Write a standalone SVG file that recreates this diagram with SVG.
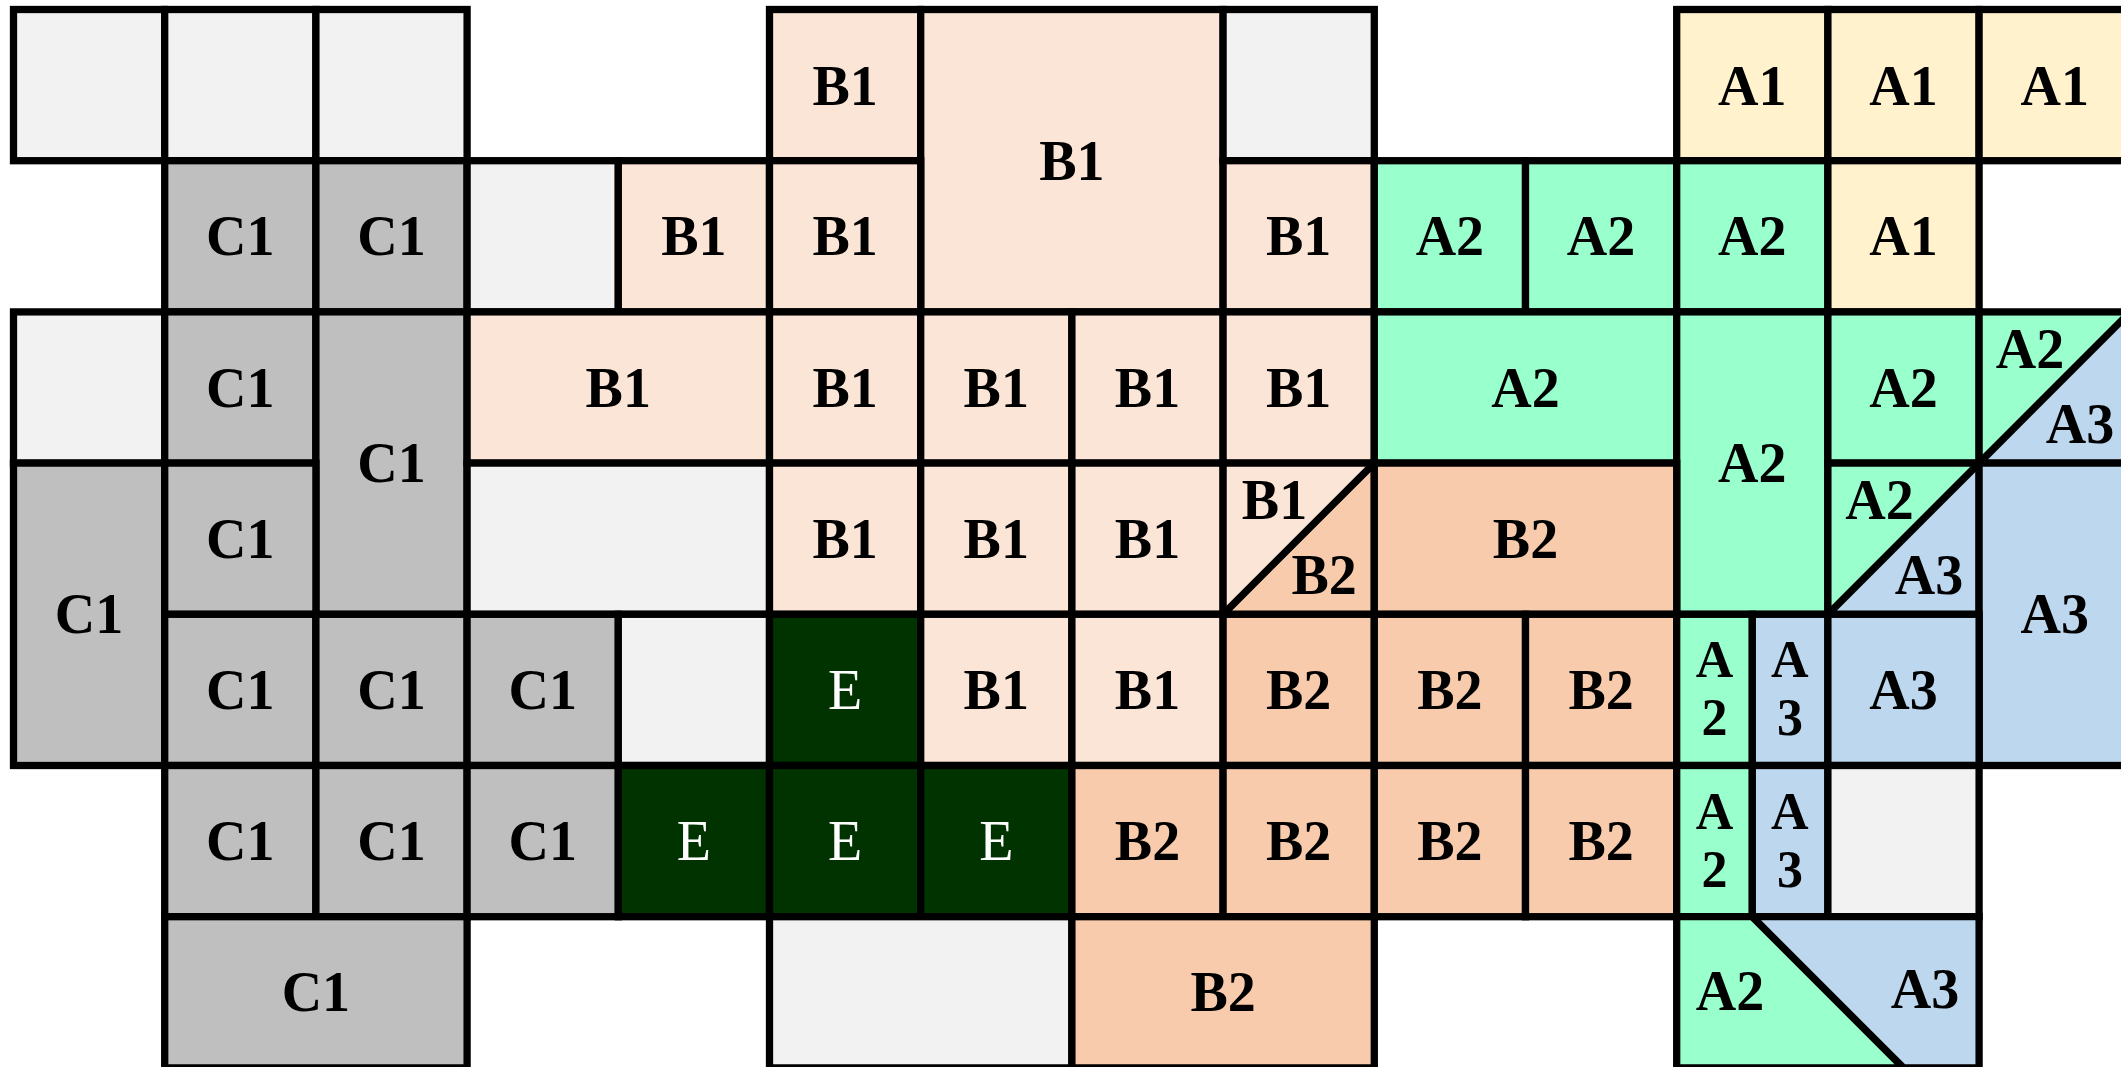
<svg xmlns="http://www.w3.org/2000/svg" width="2121" height="1067" viewBox="0 0 2121 1067">
<style>
rect,polygon{stroke:#000;stroke-width:7.3;stroke-linejoin:miter}
.g{fill:#f2f2f2}.c1{fill:#bfbfbf}.b1{fill:#fbe5d6}.b2{fill:#f8cbad}.a1{fill:#fff2cc}.a2{fill:#99ffcc}.a3{fill:#bdd7ee}.e{fill:#003300}
text{font-family:"Liberation Serif","Times New Roman",serif;font-size:56px;font-weight:bold;text-anchor:middle;fill:#000}
text.w{fill:#fff;font-weight:normal}
text.s{font-size:52px}
</style>
<!-- Row 0 -->
<g id="r0c0"><rect class="g" x="13.5" y="9.5" width="151.2" height="151.2"/></g>
<g id="r0c1"><rect class="g" x="164.7" y="9.5" width="151.2" height="151.2"/></g>
<g id="r0c2"><rect class="g" x="315.9" y="9.5" width="151.2" height="151.2"/></g>
<g id="r0c5"><rect class="b1" x="769.5" y="9.5" width="151.2" height="151.2"/><text x="845.1" y="104.6">B1</text></g>
<g id="r0c6"><rect class="b1" x="920.7" y="9.5" width="302.4" height="302.4"/><text x="1071.9" y="179.7">B1</text></g>
<g id="r0c8"><rect class="g" x="1223.1" y="9.5" width="151.2" height="151.2"/></g>
<g id="r0c11"><rect class="a1" x="1676.7" y="9.5" width="151.2" height="151.2"/><text x="1752.3" y="104.6">A1</text></g>
<g id="r0c12"><rect class="a1" x="1827.9" y="9.5" width="151.2" height="151.2"/><text x="1903.5" y="104.6">A1</text></g>
<g id="r0c13"><rect class="a1" x="1979.1" y="9.5" width="151.2" height="151.2"/><text x="2054.7" y="104.6">A1</text></g>
<!-- Row 1 -->
<g id="r1c1"><rect class="c1" x="164.7" y="160.7" width="151.2" height="151.2"/><text x="240.3" y="255.3">C1</text></g>
<g id="r1c2"><rect class="c1" x="315.9" y="160.7" width="151.2" height="151.2"/><text x="391.5" y="255.3">C1</text></g>
<g id="r1c3"><rect class="g" x="467.1" y="160.7" width="151.2" height="151.2"/></g>
<g id="r1c4"><rect class="b1" x="618.3" y="160.7" width="151.2" height="151.2"/><text x="693.9" y="255.3">B1</text></g>
<g id="r1c5"><rect class="b1" x="769.5" y="160.7" width="151.2" height="151.2"/><text x="845.1" y="255.3">B1</text></g>
<g id="r1c8"><rect class="b1" x="1223.1" y="160.7" width="151.2" height="151.2"/><text x="1298.7" y="255.3">B1</text></g>
<g id="r1c9"><rect class="a2" x="1374.3" y="160.7" width="151.2" height="151.2"/><text x="1449.9" y="255.3">A2</text></g>
<g id="r1c10"><rect class="a2" x="1525.5" y="160.7" width="151.2" height="151.2"/><text x="1601.1" y="255.3">A2</text></g>
<g id="r1c11"><rect class="a2" x="1676.7" y="160.7" width="151.2" height="151.2"/><text x="1752.3" y="255.3">A2</text></g>
<g id="r1c12"><rect class="a1" x="1827.9" y="160.7" width="151.2" height="151.2"/><text x="1903.5" y="255.3">A1</text></g>
<!-- Row 2 -->
<g id="r2c0"><rect class="g" x="13.5" y="311.9" width="151.2" height="151.2"/></g>
<g id="r2c1"><rect class="c1" x="164.7" y="311.9" width="151.2" height="151.2"/><text x="240.3" y="406.5">C1</text></g>
<g id="r2c2"><rect class="c1" x="315.9" y="311.9" width="151.2" height="302.4"/><text x="391.5" y="482.1">C1</text></g>
<g id="r2c3"><rect class="b1" x="467.1" y="311.9" width="302.4" height="151.2"/><text x="618.3" y="406.5">B1</text></g>
<g id="r2c5"><rect class="b1" x="769.5" y="311.9" width="151.2" height="151.2"/><text x="845.1" y="406.5">B1</text></g>
<g id="r2c6"><rect class="b1" x="920.7" y="311.9" width="151.2" height="151.2"/><text x="996.3" y="406.5">B1</text></g>
<g id="r2c7"><rect class="b1" x="1071.9" y="311.9" width="151.2" height="151.2"/><text x="1147.5" y="406.5">B1</text></g>
<g id="r2c8"><rect class="b1" x="1223.1" y="311.9" width="151.2" height="151.2"/><text x="1298.7" y="406.5">B1</text></g>
<g id="r2c9"><rect class="a2" x="1374.3" y="311.9" width="302.4" height="151.2"/><text x="1525.5" y="406.5">A2</text></g>
<g id="r2c11"><rect class="a2" x="1676.7" y="311.9" width="151.2" height="302.4"/><text x="1752.3" y="482.1">A2</text></g>
<g id="r2c12"><rect class="a2" x="1827.9" y="311.9" width="151.2" height="151.2"/><text x="1903.5" y="406.5">A2</text></g>
<g id="r2c13"><rect class="a2" x="1979.1" y="311.9" width="151.2" height="151.2"/><polygon class="a3" points="1979.1,463.1 2130.3,311.9 2130.3,463.1"/><text x="2030.1" y="367.9">A2</text><text x="2080.1" y="442.9">A3</text></g>
<!-- Row 3 -->
<g id="r3c0"><rect class="c1" x="13.5" y="463.1" width="151.2" height="302.4"/><text x="89.1" y="633.3">C1</text></g>
<g id="r3c1"><rect class="c1" x="164.7" y="463.1" width="151.2" height="151.2"/><text x="240.3" y="557.7">C1</text></g>
<g id="r3c3"><rect class="g" x="467.1" y="463.1" width="302.4" height="151.2"/></g>
<g id="r3c5"><rect class="b1" x="769.5" y="463.1" width="151.2" height="151.2"/><text x="845.1" y="557.7">B1</text></g>
<g id="r3c6"><rect class="b1" x="920.7" y="463.1" width="151.2" height="151.2"/><text x="996.3" y="557.7">B1</text></g>
<g id="r3c7"><rect class="b1" x="1071.9" y="463.1" width="151.2" height="151.2"/><text x="1147.5" y="557.7">B1</text></g>
<g id="r3c8"><rect class="b1" x="1223.1" y="463.1" width="151.2" height="151.2"/><polygon class="b2" points="1223.1,614.3 1374.3,463.1 1374.3,614.3"/><text x="1274.5" y="519.1">B1</text><text x="1324.1" y="594.1">B2</text></g>
<g id="r3c9"><rect class="b2" x="1374.3" y="463.1" width="302.4" height="151.2"/><text x="1525.5" y="557.7">B2</text></g>
<g id="r3c12"><rect class="a2" x="1827.9" y="463.1" width="151.2" height="151.2"/><polygon class="a3" points="1827.9,614.3 1979.1,463.1 1979.1,614.3"/><text x="1879.5" y="519.1">A2</text><text x="1929.1" y="594.1">A3</text></g>
<g id="r3c13"><rect class="a3" x="1979.1" y="463.1" width="151.2" height="302.4"/><text x="2054.7" y="633.3">A3</text></g>
<!-- Row 4 -->
<g id="r4c1"><rect class="c1" x="164.7" y="614.3" width="151.2" height="151.2"/><text x="240.3" y="708.9">C1</text></g>
<g id="r4c2"><rect class="c1" x="315.9" y="614.3" width="151.2" height="151.2"/><text x="391.5" y="708.9">C1</text></g>
<g id="r4c3"><rect class="c1" x="467.1" y="614.3" width="151.2" height="151.2"/><text x="542.7" y="708.9">C1</text></g>
<g id="r4c4"><rect class="g" x="618.3" y="614.3" width="151.2" height="151.2"/></g>
<g id="r4c5"><rect class="e" x="769.5" y="614.3" width="151.2" height="151.2"/><text class="w" x="845.1" y="708.9">E</text></g>
<g id="r4c6"><rect class="b1" x="920.7" y="614.3" width="151.2" height="151.2"/><text x="996.3" y="708.9">B1</text></g>
<g id="r4c7"><rect class="b1" x="1071.9" y="614.3" width="151.2" height="151.2"/><text x="1147.5" y="708.9">B1</text></g>
<g id="r4c8"><rect class="b2" x="1223.1" y="614.3" width="151.2" height="151.2"/><text x="1298.7" y="708.9">B2</text></g>
<g id="r4c9"><rect class="b2" x="1374.3" y="614.3" width="151.2" height="151.2"/><text x="1449.9" y="708.9">B2</text></g>
<g id="r4c10"><rect class="b2" x="1525.5" y="614.3" width="151.2" height="151.2"/><text x="1601.1" y="708.9">B2</text></g>
<g id="r4c11a"><rect class="a2" x="1676.7" y="614.3" width="75.6" height="151.2"/><text class="s" x="1714.5" y="677.3">A</text><text class="s" x="1714.5" y="735.3">2</text></g>
<g id="r4c11b"><rect class="a3" x="1752.3" y="614.3" width="75.6" height="151.2"/><text class="s" x="1789.9" y="677.3">A</text><text class="s" x="1789.9" y="735.3">3</text></g>
<g id="r4c12"><rect class="a3" x="1827.9" y="614.3" width="151.2" height="151.2"/><text x="1903.5" y="708.9">A3</text></g>
<!-- Row 5 -->
<g id="r5c1"><rect class="c1" x="164.7" y="765.5" width="151.2" height="151.2"/><text x="240.3" y="860.1">C1</text></g>
<g id="r5c2"><rect class="c1" x="315.9" y="765.5" width="151.2" height="151.2"/><text x="391.5" y="860.1">C1</text></g>
<g id="r5c3"><rect class="c1" x="467.1" y="765.5" width="151.2" height="151.2"/><text x="542.7" y="860.1">C1</text></g>
<g id="r5c4"><rect class="e" x="618.3" y="765.5" width="151.2" height="151.2"/><text class="w" x="693.9" y="860.1">E</text></g>
<g id="r5c5"><rect class="e" x="769.5" y="765.5" width="151.2" height="151.2"/><text class="w" x="845.1" y="860.1">E</text></g>
<g id="r5c6"><rect class="e" x="920.7" y="765.5" width="151.2" height="151.2"/><text class="w" x="996.3" y="860.1">E</text></g>
<g id="r5c7"><rect class="b2" x="1071.9" y="765.5" width="151.2" height="151.2"/><text x="1147.5" y="860.1">B2</text></g>
<g id="r5c8"><rect class="b2" x="1223.1" y="765.5" width="151.2" height="151.2"/><text x="1298.7" y="860.1">B2</text></g>
<g id="r5c9"><rect class="b2" x="1374.3" y="765.5" width="151.2" height="151.2"/><text x="1449.9" y="860.1">B2</text></g>
<g id="r5c10"><rect class="b2" x="1525.5" y="765.5" width="151.2" height="151.2"/><text x="1601.1" y="860.1">B2</text></g>
<g id="r5c11a"><rect class="a2" x="1676.7" y="765.5" width="75.6" height="151.2"/><text class="s" x="1714.5" y="828.5">A</text><text class="s" x="1714.5" y="886.5">2</text></g>
<g id="r5c11b"><rect class="a3" x="1752.3" y="765.5" width="75.6" height="151.2"/><text class="s" x="1789.9" y="828.5">A</text><text class="s" x="1789.9" y="886.5">3</text></g>
<g id="r5c12"><rect class="g" x="1827.9" y="765.5" width="151.2" height="151.2"/></g>
<!-- Row 6 -->
<g id="r6c1"><rect class="c1" x="164.7" y="916.7" width="302.4" height="151.2"/><text x="315.9" y="1011.3">C1</text></g>
<g id="r6c5"><rect class="g" x="769.5" y="916.7" width="302.4" height="151.2"/></g>
<g id="r6c7"><rect class="b2" x="1071.9" y="916.7" width="302.4" height="151.2"/><text x="1223.1" y="1011.3">B2</text></g>
<g id="r6c11"><polygon class="a2" points="1676.7,916.7 1752.3,916.7 1903.5,1067.9 1676.7,1067.9"/><polygon class="a3" points="1752.3,916.7 1979.1,916.7 1979.1,1067.9 1903.5,1067.9"/><text x="1730" y="1010">A2</text><text x="1925" y="1008">A3</text></g>
<g id="connectors"></g>
</svg>
